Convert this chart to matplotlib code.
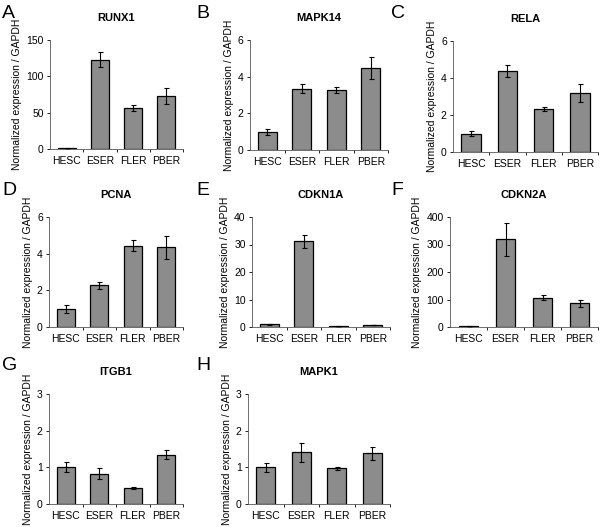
import matplotlib
matplotlib.use("Agg")
import matplotlib.pyplot as plt

plt.rcParams['font.family'] = ['Liberation Sans', 'DejaVu Sans']

cells = ["HESC", "ESER", "FLER", "PBER"]

genes = ["RUNX1", "MAPK14", "RELA", "PCNA", "CDKN1A", "CDKN2A", "ITGB1", "MAPK1"]
letters = ["A", "B", "C", "D", "E", "F", "G", "H"]

runx1 = [1.0, 123, 56, 73]
runx1_err = [0.5, 10, 4, 11]
mapk14 = [1.0, 3.35, 3.28, 4.45]
mapk14_err = [0.17, 0.25, 0.15, 0.6]
rela = [1.0, 4.38, 2.32, 3.18]
rela_err = [0.12, 0.32, 0.1, 0.48]
pcna = [1.0, 2.28, 4.42, 4.35]
pcna_err = [0.22, 0.2, 0.3, 0.62]
cdkn1a = [1.0, 31.2, 0.2, 0.7]
cdkn1a_err = [0.15, 2.3, 0.05, 0.1]
cdkn2a = [2, 320, 107, 87]
cdkn2a_err = [0.5, 60, 10, 13]
itgb1 = [1.0, 0.83, 0.44, 1.35]
itgb1_err = [0.14, 0.15, 0.03, 0.11]
mapk1 = [1.0, 1.41, 0.97, 1.38]
mapk1_err = [0.12, 0.26, 0.03, 0.17]

values = [runx1, mapk14, rela, pcna, cdkn1a, cdkn2a, itgb1, mapk1]
errors = [runx1_err, mapk14_err, rela_err, pcna_err, cdkn1a_err, cdkn2a_err, itgb1_err, mapk1_err]
yticks = [[0, 50, 100, 150], [0, 2, 4, 6], [0, 2, 4, 6], [0, 2, 4, 6],
          [0, 10, 20, 30, 40], [0, 100, 200, 300, 400], [0, 1, 2, 3], [0, 1, 2, 3]]

# axes boxes in pixels: left, top, right, bottom
W, H = 601, 527
boxes = [(50, 40, 183, 149), (250, 40, 388, 150), (453, 41, 598, 152),
         (49, 217, 183, 327), (252, 217, 390, 327), (450, 217, 598, 327),
         (49, 394, 183, 504), (248, 394, 390, 504)]
letter_pos = [(2, 14), (196, 13), (391, 13), (2, 190), (196, 190), (391, 190), (2, 365), (196, 365)]

fig = plt.figure(figsize=(W / 100, H / 100), dpi=100)

for i in range(8):
    l, t, r, b = boxes[i]
    ax = fig.add_axes([l / W, 1 - b / H, (r - l) / W, (b - t) / H])
    ax.bar(range(4), values[i], width=0.54, color="#8c8c8c", edgecolor="black", linewidth=0.9,
           yerr=errors[i], capsize=1.8, error_kw={'elinewidth': 0.8, 'capthick': 0.8}, zorder=2)
    ax.set_xlim(-0.5, 3.5)
    ax.set_ylim(yticks[i][0], yticks[i][-1])
    ax.set_yticks(yticks[i])
    ax.set_xticks(range(4))
    ax.set_xticklabels(cells)
    ax.set_xticks([0.5, 1.5, 2.5, 3.5], minor=True)
    ax.tick_params(axis='x', which='major', length=0, labelsize=7.5, pad=5)
    ax.tick_params(axis='x', which='minor', length=2.5, width=0.6, direction='out')
    ax.tick_params(axis='y', length=2.5, width=0.6, direction='out', labelsize=7.5, pad=2)
    for s in ['top', 'right']:
        ax.spines[s].set_visible(False)
    ax.spines['left'].set_linewidth(0.6)
    ax.spines['left'].set_color("#555555")
    ax.spines['bottom'].set_linewidth(0.6)
    ax.spines['bottom'].set_color("#555555")
    ax.set_title(genes[i], fontsize=8, fontweight='bold', pad=14)
    ax.set_ylabel("Normalized expression / GAPDH", fontsize=7.5, labelpad=3)
    lx, ly = letter_pos[i]
    fig.text(lx / W, 1 - ly / H, letters[i], fontsize=14, va='center', ha='left')

fig.savefig("out.png", dpi=100)
